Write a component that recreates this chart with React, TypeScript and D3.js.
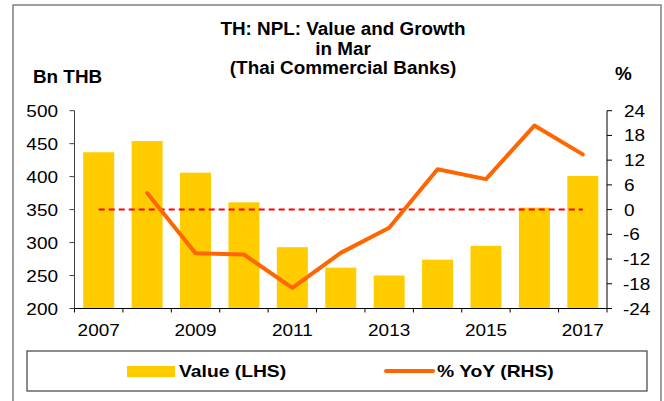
import React from "react";
import * as d3 from "d3";

const years = ["2007","2008","2009","2010","2011","2012","2013","2014","2015","2016","2017"];
const values = [437, 454, 406, 361, 293, 262, 250, 274, 295, 353, 401];
const yoy: (number | null)[] = [null, 4, -10.6, -10.9, -19, -10.5, -4.4, 9.8, 7.4, 20.4, 13.4];
const leftTicks = [200, 250, 300, 350, 400, 450, 500];
const rightTicks = [-24, -18, -12, -6, 0, 6, 12, 18, 24];
const xLabelYears = ["2007","2009","2011","2013","2015","2017"];

const W = 664, H = 401;
const plot = { left: 74.5, right: 607, top: 110.7, bottom: 308.5 };
const FONT = "'Liberation Sans', Arial, sans-serif";

function T(props: { x: number; y: number; sx?: number; size?: number; bold?: boolean; anchor?: string; children: React.ReactNode }) {
  const { x, y, sx = 1.15, size = 16.5, bold = false, anchor = "start", children } = props;
  return (
    <text transform={`translate(${x},${y}) scale(${sx},1)`} fontSize={size} fontWeight={bold ? "bold" : "normal"} textAnchor={anchor} fill="#000">
      {children}
    </text>
  );
}

export default function App() {
  const x = d3.scaleBand<string>().domain(years).range([plot.left, plot.right]).paddingInner(0.36).paddingOuter(0.18);
  const xc = (y: string) => (x(y) as number) + x.bandwidth() / 2;
  const yL = d3.scaleLinear().domain([200, 500]).range([plot.bottom, plot.top]);
  const yR = d3.scaleLinear().domain([-24, 24]).range([plot.bottom, plot.top]);
  const step = (plot.right - plot.left) / years.length;

  const pts = years.map((y, i) => ({ y, v: yoy[i] })).filter(d => d.v !== null) as { y: string; v: number }[];
  const line = d3.line<{ y: string; v: number }>().x(d => xc(d.y)).y(d => yR(d.v));

  return (
    <svg width={W} height={H} style={{ position: "absolute", left: 0, top: 0 }} fontFamily={FONT}>
      <rect x={0} y={0} width={W} height={H} fill="#fff" />
      <rect x={13} y={5} width={648} height={420} fill="none" stroke="#808080" strokeWidth={1.5} />

      <T x={343} y={35} size={18.5} sx={1.02} bold anchor="middle">TH: NPL: Value and Growth</T>
      <T x={343} y={54.5} size={18.5} sx={1.02} bold anchor="middle">in Mar</T>
      <T x={343} y={74} size={18.5} sx={1.02} bold anchor="middle">(Thai Commercial Banks)</T>
      <T x={33} y={83} size={18.5} sx={1.02} bold>Bn THB</T>
      <T x={615} y={80} size={18.5} sx={1.02} bold>%</T>

      {years.map((y, i) => (
        <rect key={y} x={x(y)} y={yL(values[i])} width={x.bandwidth()} height={yL(200) - yL(values[i])} fill="#FFCC00" />
      ))}

      <line x1={xc(years[0])} x2={xc(years[years.length - 1])} y1={yR(0)} y2={yR(0)} stroke="#FF0000" strokeWidth={2} strokeDasharray="6,4" />

      <path d={line(pts) || ""} fill="none" stroke="#FF6600" strokeWidth={4} strokeLinejoin="round" strokeLinecap="round" />

      {/* left axis */}
      <line x1={plot.left} x2={plot.left} y1={plot.top} y2={plot.bottom} stroke="#404040" strokeWidth={1} />
      {leftTicks.map(t => (
        <g key={t}>
          <line x1={plot.left - 5} x2={plot.left} y1={yL(t)} y2={yL(t)} stroke="#404040" />
          <T x={58} y={yL(t) + 6} anchor="end">{t}</T>
        </g>
      ))}
      {/* right axis */}
      <line x1={plot.right} x2={plot.right} y1={plot.top} y2={plot.bottom} stroke="#000" strokeWidth={1} />
      {rightTicks.map(t => (
        <g key={t}>
          <line x1={plot.right} x2={plot.right + 5} y1={yR(t)} y2={yR(t)} stroke="#000" />
          <T x={t < 0 ? 623 : 624} y={yR(t) + 6}>{t}</T>
        </g>
      ))}
      {/* x axis */}
      <line x1={plot.left} x2={plot.right} y1={plot.bottom} y2={plot.bottom} stroke="#000" strokeWidth={1} />
      {d3.range(years.length + 1).map(i => (
        <line key={i} x1={plot.left + i * step} x2={plot.left + i * step} y1={plot.bottom} y2={plot.bottom + 4} stroke="#000" />
      ))}
      {xLabelYears.map(y => (
        <T key={y} x={xc(y)} y={336} anchor="middle">{y}</T>
      ))}

      {/* legend */}
      <rect x={27} y={351} width={620} height={40} fill="none" stroke="#404040" strokeWidth={1.2} />
      <rect x={127} y={366} width={48} height={11} fill="#FFCC00" />
      <T x={179} y={377} bold sx={1.17}>Value (LHS)</T>
      <line x1={386} x2={433} y1={371} y2={371} stroke="#FF6600" strokeWidth={4} strokeLinecap="round" />
      <T x={437} y={377} bold sx={1.17}>% YoY (RHS)</T>
    </svg>
  );
}
